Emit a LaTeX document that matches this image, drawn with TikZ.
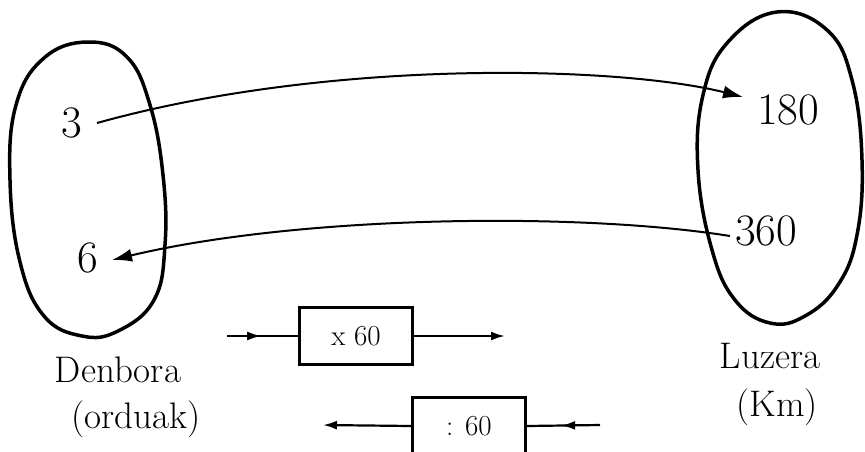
\documentclass[tikz,border=0pt]{standalone}
\usetikzlibrary{arrows.meta,decorations.markings}
\begin{document}
\begin{tikzpicture}[x=1pt,y=-1pt,
  blob/.style={line width=3.5pt,line join=round},
  num/.style={inner sep=0pt,font=\fontsize{45}{50}\selectfont},
  lbl/.style={inner sep=0pt,font=\fontsize{37}{42}\selectfont},
  link/.style={line width=2pt,-{Latex[length=20pt,width=13pt]}},
  opbox/.style={draw,line width=2.5pt,minimum width=113pt,minimum height=57pt,inner sep=0pt,font=\fontsize{29}{34}\selectfont},
  feed/.style={line width=2.2pt},
  headend/.style={-{Latex[length=14pt,width=9pt]}},
  midhead/.style={postaction={decorate},decoration={markings,mark=at position #1 with {\arrow{Latex[length=14pt,width=9pt]}}}}
]
\useasboundingbox (0,0) rectangle (865,451);
\clip (0,0) rectangle (865,451);
\fill[white] (0,0) rectangle (865,451);

% left set
\draw[blob] plot[smooth cycle,tension=0.7] coordinates {(88,42) (127,57) (150,105) (163,175) (165,245) (154,300) (118,331) (82,336) (44,316) (20,262) (10,180) (16,105) (44,58)};
% right set
\draw[blob] plot[smooth cycle,tension=0.7] coordinates {(777,12) (827,30) (852,80) (862,160) (857,235) (838,285) (805,316) (770,323) (735,300) (712,250) (698,170) (703,95) (728,42)};

\node[num] (n3) at (72,123) {3};
\node[num] (n6) at (88,258) {6};
\node[num] (n180) at (788,110) {180};
\node[num] (n360) at (766,231) {360};

\coordinate (s1) at (97,123);
\coordinate (e1) at (743,97);
\coordinate (s2) at (730,236);
\coordinate (e2) at (112,260);
\draw[link] (s1) .. controls (330,58) and (620,66) .. (e1);
\draw[link] (s2) .. controls (580,212) and (300,215) .. (e2);

\node[lbl] (den) at (118,370) {Denbora};
\node[lbl] (ord) at (136,419) {(orduak)};
\node[lbl] (luz) at (770,356) {Luzera};
\node[lbl] (km) at (777,407) {(Km)};

% operators
\node[opbox] (b1) at (356,336) {x 60};
\node[opbox] (b2) at (469,426) {: 60};
\coordinate (i1) at (227,336);
\coordinate (o1) at (505,336);
\coordinate (i2) at (600,425);
\coordinate (o2) at (323,425);
\draw[feed,midhead=0.48] (i1) -- (b1.west);
\draw[feed,headend] (b1.east) -- (o1);
\draw[feed,midhead=0.53] (i2) -- (b2.east);
\draw[feed,headend] (b2.west) -- (o2);
\end{tikzpicture}
\end{document}
